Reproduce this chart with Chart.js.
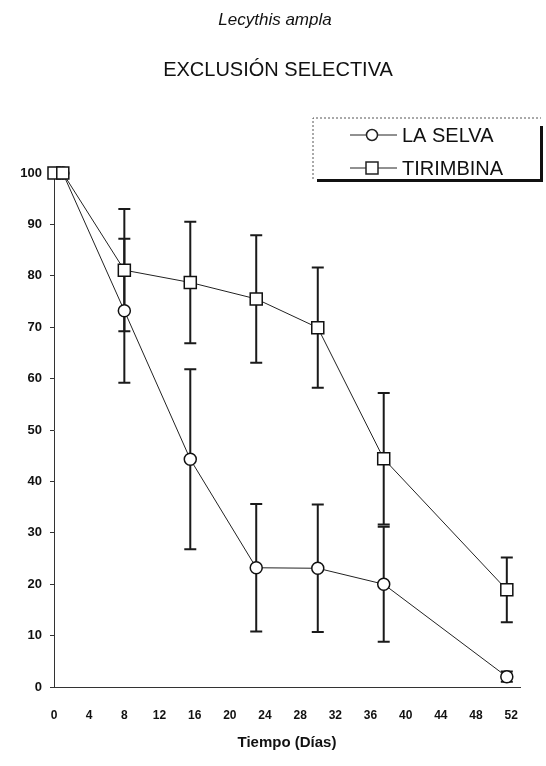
<!DOCTYPE html>
<html>
<head>
<meta charset="utf-8">
<script src="https://cdn.jsdelivr.net/npm/chart.js@4/dist/chart.umd.min.js"></script>
<style>
  body { margin: 0; background: #fff; }
  canvas { display: block; }
</style>
</head>
<body>
<canvas id="grafico" width="546" height="766"></canvas>
<script>
// supervivencia (%) por dia, con error
var diasSelva = [1, 8, 15.5, 23, 30, 37.5, 51.5];
var mediaSelva = [100, 73.2, 44.3, 23.2, 23.1, 20, 2];
var errorSelva = [0, 14, 17.5, 12.4, 12.4, 11.2, 1];

var diasTirimbina = [0, 1, 8, 15.5, 23, 30, 37.5, 51.5];
var mediaTirimbina = [100, 100, 81.1, 78.7, 75.5, 69.9, 44.4, 18.9];
var errorTirimbina = [0, 0, 11.9, 11.8, 12.4, 11.7, 12.8, 6.3];

var ticksX = [0, 4, 8, 12, 16, 20, 24, 28, 32, 36, 40, 44, 48, 52];

var especie = "Lecythis ampla";
var tratamiento = "EXCLUSIÓN SELECTIVA";

var fuente = "'Liberation Sans', Arial, sans-serif";

function puntos(xs, ys) {
  return xs.map(function (x, i) { return { x: x, y: ys[i] }; });
}

// titulos arriba del grafico
var titulos = {
  id: "titulos",
  afterDraw: function (chart) {
    var ctx = chart.ctx;
    ctx.save();
    ctx.fillStyle = "#111";
    ctx.textAlign = "center";
    ctx.textBaseline = "middle";
    ctx.font = "italic 17px " + fuente;
    ctx.fillText(especie, 275, 20);
    ctx.font = "20px " + fuente;
    ctx.fillText(tratamiento, 278, 70);
    ctx.restore();
  }
};

// barras de error debajo de los marcadores
var barrasError = {
  id: "barrasError",
  beforeDatasetsDraw: function (chart) {
    var ctx = chart.ctx;
    var y = chart.scales.y;
    ctx.save();
    ctx.strokeStyle = "#1a1a1a";
    ctx.lineWidth = 2;
    chart.data.datasets.forEach(function (ds, d) {
      var meta = chart.getDatasetMeta(d);
      ds.errores.forEach(function (e, i) {
        if (!e) return;
        var px = meta.data[i].x;
        var arriba = y.getPixelForValue(ds.data[i].y + e);
        var abajo = y.getPixelForValue(ds.data[i].y - e);
        ctx.beginPath();
        ctx.moveTo(px, arriba); ctx.lineTo(px, abajo);
        ctx.moveTo(px - 6, arriba); ctx.lineTo(px + 6, arriba);
        ctx.moveTo(px - 6, abajo); ctx.lineTo(px + 6, abajo);
        ctx.stroke();
      });
    });
    ctx.restore();
  }
};

// leyenda en recuadro con sombra
var leyenda = {
  id: "leyenda",
  afterDraw: function (chart) {
    var ctx = chart.ctx;
    var x0 = 313, y0 = 118, x1 = 541, y1 = 179;
    ctx.save();
    ctx.fillStyle = "#fff";
    ctx.fillRect(x0, y0, x1 - x0, y1 - y0);
    ctx.strokeStyle = "#555";
    ctx.lineWidth = 1;
    ctx.setLineDash([2, 2]);
    ctx.beginPath();
    ctx.moveTo(x0, y1); ctx.lineTo(x0, y0); ctx.lineTo(x1, y0);
    ctx.stroke();
    ctx.setLineDash([]);
    ctx.fillStyle = "#111";
    ctx.fillRect(x1 - 1, y0 + 8, 3, y1 - y0 - 6);
    ctx.fillRect(x0 + 4, y1, x1 - x0 - 2, 3);

    var filas = [135, 168];
    chart.data.datasets.forEach(function (ds, i) {
      var fy = filas[i];
      ctx.strokeStyle = "#222";
      ctx.lineWidth = 1;
      ctx.beginPath();
      ctx.moveTo(350, fy); ctx.lineTo(397, fy);
      ctx.stroke();
      ctx.fillStyle = "#fff";
      ctx.lineWidth = 1.5;
      ctx.beginPath();
      if (ds.pointStyle === "circle") {
        ctx.arc(372, fy, 5.5, 0, Math.PI * 2);
      } else {
        ctx.rect(366, fy - 6, 12, 12);
      }
      ctx.fill();
      ctx.stroke();
      ctx.fillStyle = "#111";
      ctx.font = "20px " + fuente;
      ctx.textBaseline = "middle";
      ctx.fillText(ds.label, 402, fy + 1);
    });
    ctx.restore();
  }
};

new Chart(document.getElementById("grafico"), {
  type: "line",
  data: {
    datasets: [
      {
        label: "LA SELVA",
        order: 2,
        data: puntos(diasSelva, mediaSelva),
        errores: errorSelva,
        borderColor: "#222",
        borderWidth: 1,
        pointStyle: "circle",
        pointRadius: 6,
        pointBackgroundColor: "#fff",
        pointBorderColor: "#111",
        pointBorderWidth: 1.5
      },
      {
        label: "TIRIMBINA",
        order: 1,
        data: puntos(diasTirimbina, mediaTirimbina),
        errores: errorTirimbina,
        borderColor: "#222",
        borderWidth: 1,
        pointStyle: "rect",
        pointRadius: 8.5,
        pointBackgroundColor: "#fff",
        pointBorderColor: "#111",
        pointBorderWidth: 1.5
      }
    ]
  },
  options: {
    responsive: false,
    animation: false,
    devicePixelRatio: 1,
    clip: false,
    events: [],
    layout: { padding: { left: 0, right: 26, top: 173, bottom: 0 } },
    scales: {
      x: {
        type: "linear",
        min: 0,
        max: 53,
        afterBuildTicks: function (axis) {
          axis.ticks = ticksX.map(function (v) { return { value: v }; });
        },
        afterFit: function (scale) { scale.height = 79; },
        grid: { display: false },
        border: { display: true, color: "#333", width: 1, dash: [2, 2] },
        ticks: {
          padding: 13,
          maxRotation: 0,
          autoSkip: false,
          color: "#111",
          font: { family: fuente, size: 12, weight: "bold" }
        },
        title: {
          display: true,
          text: "Tiempo (Días)",
          color: "#111",
          padding: { top: 0, bottom: 14 },
          font: { family: fuente, size: 15, weight: "bold" }
        }
      },
      y: {
        min: 0,
        max: 100,
        afterFit: function (scale) { scale.width = 54; },
        grid: {
          drawOnChartArea: false,
          tickLength: 4,
          color: "#333"
        },
        border: { display: true, color: "#333", width: 1, dash: [2, 2] },
        ticks: {
          stepSize: 10,
          padding: 8,
          color: "#111",
          font: { family: fuente, size: 13, weight: "bold" }
        }
      }
    },
    plugins: {
      legend: { display: false },
      tooltip: { enabled: false },
      title: { display: false }
    }
  },
  plugins: [barrasError, leyenda, titulos]
});
</script>
</body>
</html>
